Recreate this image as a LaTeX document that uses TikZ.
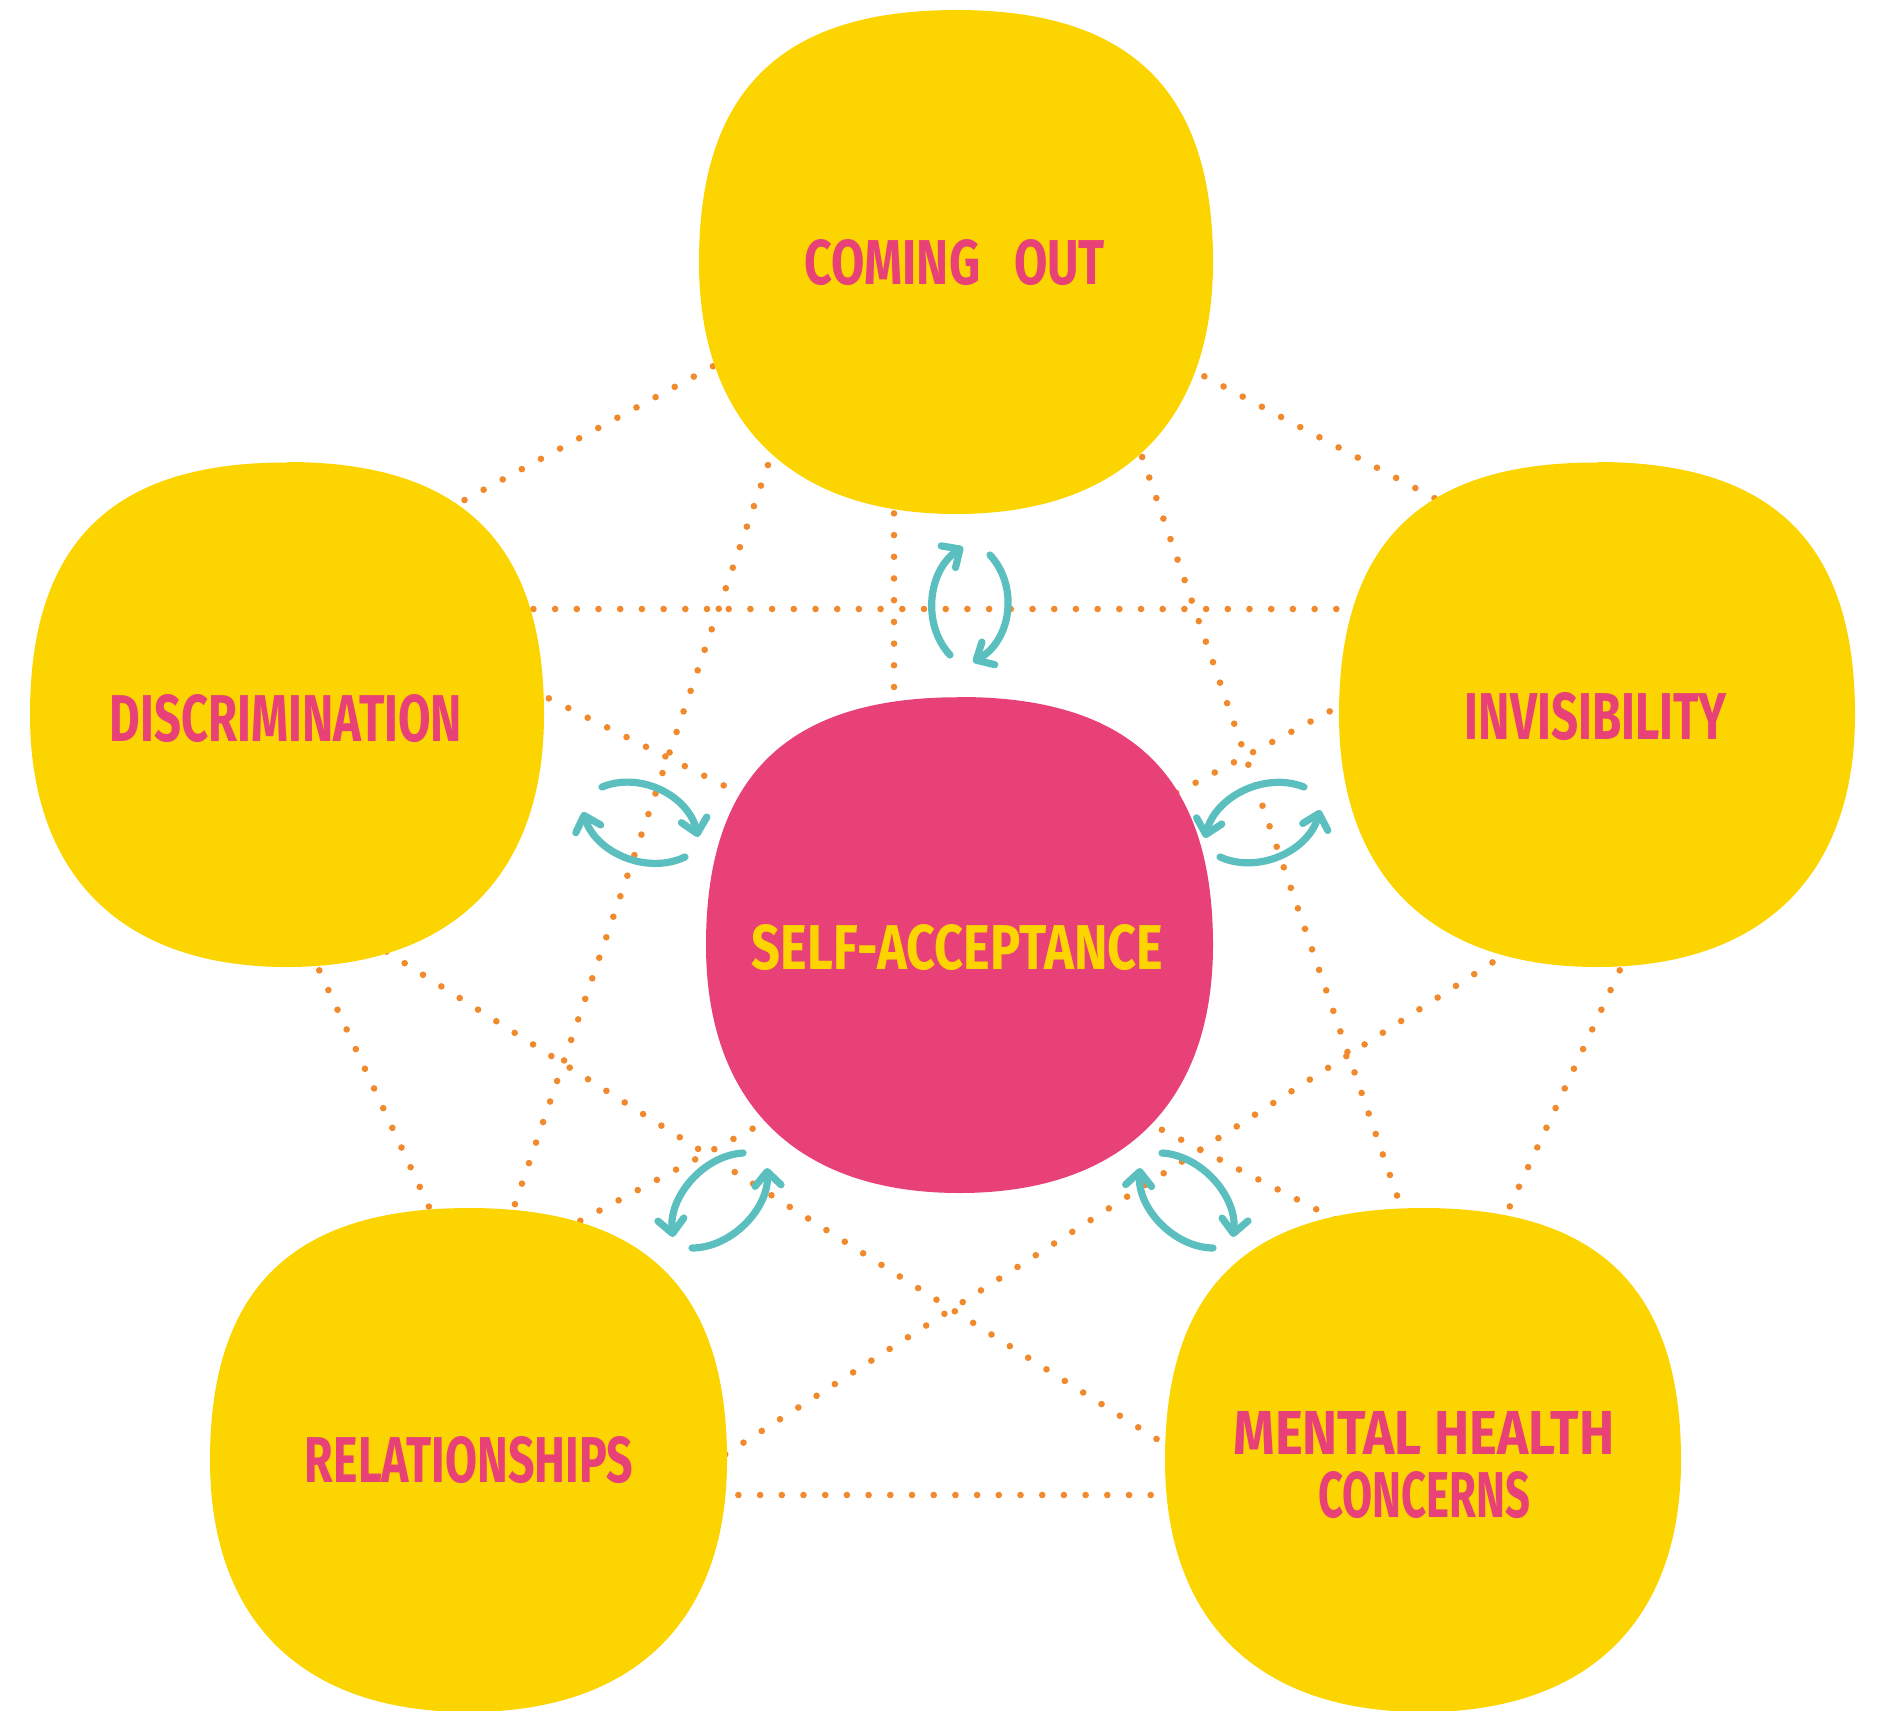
\documentclass[tikz,border=0pt]{standalone}
\usepackage{fontspec}
\usepackage{graphicx}
\usetikzlibrary{arrows.meta}
\newfontfamily\handfont{Fira Sans}

\definecolor{sunyellow}{HTML}{FCD400}
\definecolor{rosepink}{HTML}{E84177}
\definecolor{tealarrow}{HTML}{5CBFBF}
\definecolor{dotorange}{HTML}{F18A2C}

% rounded blob: centre, half width, half height, colour
\newcommand\blob[5]{%
  \fill[#5, shift={(#1,#2)}, xscale=#3, yscale=#4]
    (0,-1) .. controls (0.68,-1) and (1,-0.68) .. (1,0)
    .. controls (1,0.64) and (0.64,1) .. (0,1)
    .. controls (-0.64,1) and (-1,0.64) .. (-1,0)
    .. controls (-1,-0.68) and (-0.68,-1) .. cycle;}

% hand-lettered caption squeezed into a given width and cap height
\newcommand\lbl[3]{\resizebox{#1}{#2}{\handfont\bfseries #3}}

\tikzset{
  dotline/.style={dotorange, line width=3.3pt, line cap=round,
                  dash pattern=on 0pt off 10.85pt},
  cyc/.style={tealarrow, line width=3.6pt, line cap=round,
              -{Straight Barb[length=7pt, width=13pt, round]}},
  caption/.style={inner sep=0pt, text=rosepink},
}

\begin{document}
\begin{tikzpicture}[x=0.5pt, y=-0.5pt]
\fill[white] (0,0) rectangle (1883,1711);
\useasboundingbox (0,0) rectangle (1883,1711);

% ---- end points of the dotted web ----
\coordinate (A1) at (732,356);   \coordinate (A2) at (433,517);
\coordinate (B1) at (1166,356);  \coordinate (B2) at (1470,517);
\coordinate (C1) at (490,609);   \coordinate (C2) at (1395,609);
\coordinate (D1) at (782,424);   \coordinate (D2) at (503,1239);
\coordinate (E1) at (1128,416);  \coordinate (E2) at (1412,1239);
\coordinate (F1) at (301,931);   \coordinate (F2) at (443,1237);
\coordinate (G1) at (1638,931);  \coordinate (G2) at (1490,1249);
\coordinate (H1) at (695,1495);  \coordinate (H2) at (1197,1495);
\coordinate (I1) at (368,940);   \coordinate (I2) at (1193,1462);
\coordinate (J1) at (1529,939);  \coordinate (J2) at (693,1475);
\coordinate (K1) at (894,470);   \coordinate (K2) at (894,720);
\coordinate (L1) at (510,679);   \coordinate (L2) at (781,814);
\coordinate (M1) at (1368,691);  \coordinate (M2) at (1148,808);
\coordinate (N1) at (810,1098);  \coordinate (N2) at (550,1237);
\coordinate (O1) at (1104,1100); \coordinate (O2) at (1376,1240);

\foreach \e in {A,B,C,D,E,F,G,H,I,J,K,L,M,N,O}
  \draw[dotline] (\e1) -- (\e2);

% ---- blobs ----
\blob{956}{262}{257}{252}{sunyellow}
\blob{287}{714.5}{257}{252.5}{sunyellow}
\blob{1597}{714.5}{258}{252.5}{sunyellow}
\blob{468.5}{1460}{258.5}{252}{sunyellow}
\blob{1423}{1460}{258}{252}{sunyellow}
\blob{959.5}{945}{253.5}{248}{rosepink}

% ---- captions ----
\node[caption] (comingout) at (955,262.5)
  {\lbl{150pt}{22.5pt}{COMING\hspace{0.7em}OUT}};
\node[caption] (discrimination) at (286,718.5)
  {\lbl{176pt}{23.5pt}{DISCRIMINATION}};
\node[caption] (invisibility) at (1596,716.5)
  {\lbl{131pt}{23.5pt}{INVISIBILITY}};
\node[caption] (relationships) at (469,1460)
  {\lbl{164pt}{23pt}{RELATIONSHIPS}};
\node[caption, align=center, font=\fontsize{10}{31.5}\selectfont] (mental) at (1424,1465)
  {\lbl{190.5pt}{21.5pt}{MENTAL HEALTH}\\\lbl{106pt}{23pt}{CONCERNS}};
\node[caption, text=sunyellow] (self) at (957.5,947.5)
  {\lbl{205.5pt}{22.5pt}{SELF-ACCEPTANCE}};

% ---- two-way arrows between each theme and the centre ----
% top
\draw[cyc] (950,655) .. controls (921.5,624.2) and (928,570.2) .. (963,547);
\draw[cyc] (990,555) .. controls (1019.4,587.1) and (1010.9,640.6) .. (973,662);
% left
\draw[cyc] (602,787) .. controls (640.8,771.1) and (688.8,796.1) .. (698,837);
\draw[cyc] (685,857) .. controls (646.6,875.1) and (595.6,852.6) .. (583,812);
% right
\draw[cyc] (1304,787) .. controls (1264.6,771.4) and (1215.1,796.9) .. (1205,838);
\draw[cyc] (1220,857) .. controls (1258.6,874.3) and (1308.6,850.8) .. (1320,810);
% bottom left
\draw[cyc] (743,1153) .. controls (703.2,1155.4) and (668.2,1197.4) .. (673,1237);
\draw[cyc] (692,1248) .. controls (731.9,1247.8) and (769.4,1207.8) .. (767,1168);
% bottom right
\draw[cyc] (1213,1248) .. controls (1173.4,1247.5) and (1136.9,1207.5) .. (1140,1168);
\draw[cyc] (1162,1153) .. controls (1202,1155.3) and (1237.5,1197.3) .. (1233,1237);
\end{tikzpicture}
\end{document}
